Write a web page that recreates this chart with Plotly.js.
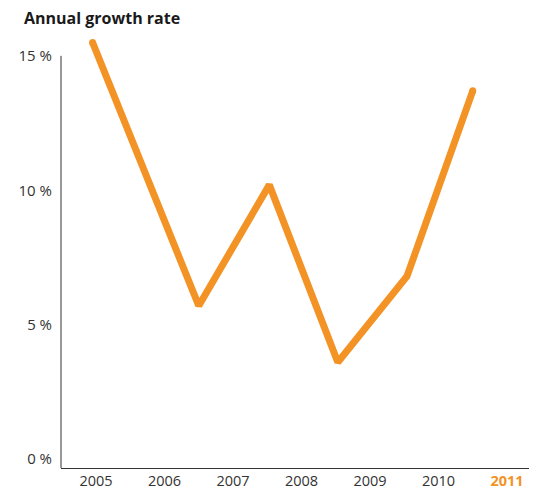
<!DOCTYPE html>
<html>
<head>
<meta charset="utf-8">
<script src="https://cdn.plot.ly/plotly-3.0.1.min.js"></script>
<style>html,body{margin:0;padding:0;background:#fff;}#chart{width:539px;height:490px;}</style>
</head>
<body>
<div id="chart"></div>
<script>
// Data (time points in years, growth rate in %)
var periods = [2004.95, 2006.5, 2007.53, 2008.53, 2009.54, 2010.5];
var growthRate = [15.5, 5.7, 10.2, 3.6, 6.8, 13.7];
var yearTicks = [2005, 2006, 2007, 2008, 2009, 2010, 2011];
var yearLabels = ['2005', '2006', '2007', '2008', '2009', '2010', '<b><span style="color:#F39325">2011</span></b>'];
var yTicks = [0, 5, 10, 15];
var yLabels = ['0 %', '5 %', '10 %', '15 %'];

var orange = '#F39325';
var ink = '#333333';
var font = 'Open Sans, Noto Sans, sans-serif';

var trace = {
  x: periods,
  y: growthRate,
  type: 'scatter',
  mode: 'lines',
  line: {color: orange, width: 7},
  cliponaxis: false,
  hoverinfo: 'skip'
};
var ends = {
  x: [periods[0], periods[periods.length - 1]],
  y: [growthRate[0], growthRate[growthRate.length - 1]],
  type: 'scatter',
  mode: 'markers',
  marker: {color: orange, size: 7},
  cliponaxis: false,
  hoverinfo: 'skip'
};

var layout = {
  width: 539,
  height: 490,
  margin: {l: 61, r: 10, t: 29, b: 22},
  paper_bgcolor: '#ffffff',
  plot_bgcolor: '#ffffff',
  showlegend: false,
  font: {family: font, color: ink, size: 14},
  title: {
    text: '<b>Annual growth rate</b>',
    font: {family: font, size: 16, color: '#1a1a1a'},
    xref: 'container', x: 24 / 539, xanchor: 'left',
    yref: 'container', y: 1 - 18 / 490, yanchor: 'middle'
  },
  xaxis: {
    range: [2004.489, 2011.321],
    tickmode: 'array',
    tickvals: yearTicks,
    ticktext: yearLabels,
    showgrid: false,
    zeroline: false,
    showline: true,
    linecolor: ink,
    linewidth: 1,
    ticks: '',
    ticklabelstandoff: 0,
    tickfont: {family: font, size: 14.5, color: ink},
    fixedrange: true
  },
  yaxis: {
    range: [-0.335, 16],
    tickmode: 'array',
    tickvals: yTicks,
    ticktext: yLabels,
    showgrid: false,
    zeroline: false,
    showline: false,
    ticks: '',
    ticklabelstandoff: 8,
    tickfont: {family: font, size: 15, color: ink},
    fixedrange: true
  },
  shapes: [{
    type: 'line', xref: 'paper', yref: 'y',
    x0: 0, x1: 0, y0: -0.335, y1: 15,
    line: {color: ink, width: 1}
  }]
};

Plotly.newPlot('chart', [trace, ends], layout, {displayModeBar: false, staticPlot: true});
</script>
</body>
</html>
